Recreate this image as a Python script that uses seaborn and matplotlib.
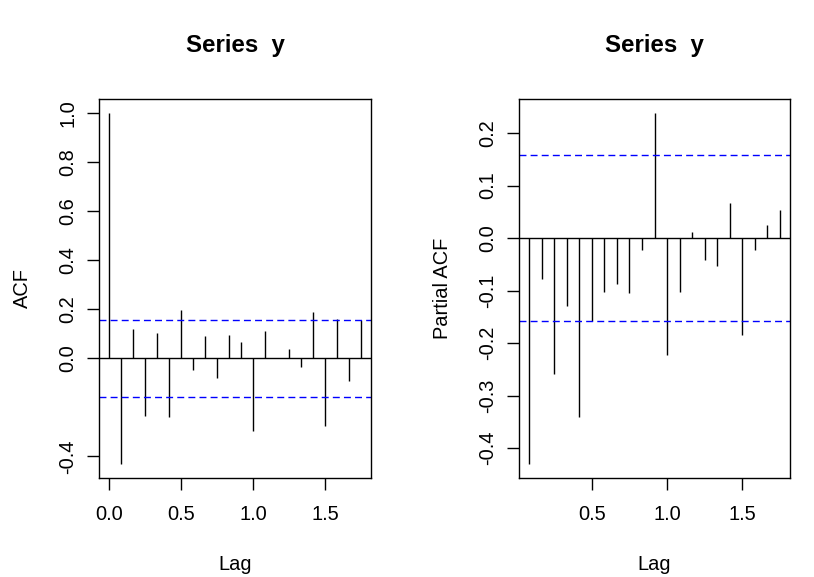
import numpy as np
import seaborn as sns
import matplotlib
matplotlib.use('Agg')
import matplotlib.pyplot as plt

# lags in years (monthly series, frequency 12)
acf_lags = np.arange(0, 22) / 12
acf_vals = [1.0, -0.431, 0.121, -0.236, 0.102, -0.240, 0.195, -0.046, 0.089, -0.081,
            0.096, 0.068, -0.298, 0.111, 0.001, 0.037, -0.037, 0.187, -0.276, 0.160,
            -0.093, 0.157]

pacf_lags = np.arange(1, 22) / 12
pacf_vals = [-0.430, -0.077, -0.259, -0.130, -0.341, -0.157, -0.102, -0.087, -0.105,
             -0.022, 0.238, -0.223, -0.102, 0.011, -0.041, -0.054, 0.066, -0.185,
             -0.022, 0.025, 0.053]

ci = 0.158

sns.set_theme(style='white')
plt.rcParams['font.family'] = ['Liberation Sans', 'DejaVu Sans']

fig = plt.figure(figsize=(8.14, 5.77), dpi=100)
ax1 = fig.add_axes([0.1216, 0.1716, 0.3342, 0.6568])
ax2 = fig.add_axes([0.6376, 0.1716, 0.3330, 0.6568])


def r_range(vals):
    lo, hi = min(vals), max(vals)
    d = (hi - lo) * 0.04
    return lo - d, hi + d


def draw(ax, lags, vals, ylab, yticks):
    ax.vlines(lags, 0, vals, color='black', linewidth=1.0)
    ax.axhline(0, color='black', linewidth=1.0)
    for c in (ci, -ci):
        ax.axhline(c, color='blue', linewidth=1.0, linestyle=(0, (5, 3)))
    ax.set_xlim(*r_range(list(lags)))
    ax.set_ylim(*r_range(list(vals) + [ci, -ci]))
    ax.set_yticks(yticks)
    ax.set_yticklabels([f'{t:.1f}' for t in yticks], rotation=90, va='center')
    for s in ax.spines.values():
        s.set_color('black')
        s.set_linewidth(1.0)
    ax.tick_params(axis='both', direction='out', length=8.5, width=1.0,
                   color='black', labelsize=14.4, labelcolor='black',
                   bottom=True, left=True)
    ax.tick_params(axis='x', pad=10.8)
    ax.tick_params(axis='y', pad=7.2)
    ax.set_xlabel('Lag', fontsize=14.4, labelpad=22.5, color='black')
    ax.set_ylabel(ylab, fontsize=14.4, labelpad=19, color='black')
    ax.set_title('Series  y', fontsize=17.3, fontweight='bold', pad=34, color='black')


draw(ax1, acf_lags, acf_vals, 'ACF', [-0.4, 0.0, 0.2, 0.4, 0.6, 0.8, 1.0])
ax1.set_xticks([0.0, 0.5, 1.0, 1.5])
draw(ax2, pacf_lags, pacf_vals, 'Partial ACF', [-0.4, -0.3, -0.2, -0.1, 0.0, 0.1, 0.2])
ax2.set_xticks([0.5, 1.0, 1.5])
for ax in (ax1, ax2):
    ax.set_xticklabels([f'{t:.1f}' for t in ax.get_xticks()])

fig.savefig('out.png', dpi=100, facecolor='white')
